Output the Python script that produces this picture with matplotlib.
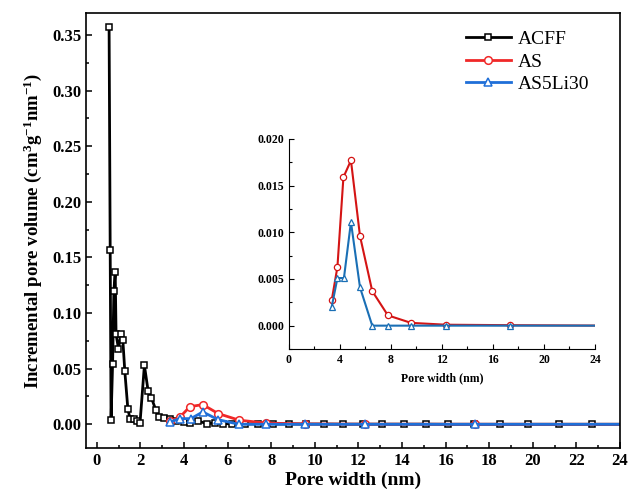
import matplotlib
matplotlib.use("Agg")
import matplotlib.pyplot as plt
from matplotlib.ticker import MultipleLocator

plt.rcParams["font.family"] = ["Liberation Serif", "DejaVu Serif"]
plt.rcParams["mathtext.fontset"] = "custom"
plt.rcParams["mathtext.rm"] = "Liberation Serif:bold"
plt.rcParams["mathtext.bf"] = "Liberation Serif:bold"
plt.rcParams["mathtext.it"] = "Liberation Serif:bold"

# ACFF pore size distribution
acff_x = [0.56, 0.61, 0.65, 0.72, 0.78, 0.84, 0.88, 0.99, 1.10, 1.19, 1.28, 1.42,
          1.52, 1.68, 1.83, 1.98, 2.18, 2.35, 2.50, 2.70, 2.85, 3.08, 3.35, 3.65,
          4.0, 4.27, 4.65, 5.03, 5.4, 5.8, 6.2, 6.8, 7.4, 8.1, 8.8, 9.6, 10.4,
          11.3, 12.2, 13.1, 14.1, 15.1, 16.1, 17.3, 18.5, 19.8, 21.2, 22.7, 24.5]
acff_y = [0.357, 0.157, 0.004, 0.054, 0.120, 0.137, 0.081, 0.068, 0.081, 0.076,
          0.048, 0.014, 0.005, 0.0045, 0.003, 0.0015, 0.053, 0.030, 0.024, 0.013,
          0.0066, 0.0057, 0.0045, 0.003, 0.002, 0.0015, 0.003, 0.0006, 0.0012,
          0.0005, 0.0006, 0.0003, 0.0004, 0.0002, 0.0003, 0.0002, 0.0002, 0.0001,
          0.0001, 0.0001, 0.0001, 0.0001, 0.0, 0.0, 0.0, 0.0, 0.0, 0.0, 0.0]

# AS and AS5Li30
as_x = [3.35, 3.80, 4.27, 4.86, 5.57, 6.53, 7.76, 9.57, 12.3, 17.35, 25.0]
as_y = [0.0027, 0.0063, 0.0159, 0.0177, 0.0096, 0.0037, 0.0011, 0.0003, 0.0001, 0.00005, 0.0]
li_x = [3.35, 3.80, 4.31, 4.86, 5.57, 6.53, 7.76, 9.57, 12.3, 17.35, 25.0]
li_y = [0.0020, 0.0051, 0.0051, 0.0111, 0.0041, 0.0, 0.0, 0.0, 0.0, 0.0, 0.0]

red = "#F02828"
blue = "#1F6FD8"

fig = plt.figure(figsize=(6.3, 4.96), dpi=100)
ax = fig.add_axes([0.1365, 0.0968, 0.8475, 0.877])

ax.plot(acff_x, acff_y, color="black", lw=2, marker="s", ms=5, mfc="white",
        mec="black", mew=1.1, label="ACFF")
ax.plot(as_x, as_y, color=red, lw=2, marker="o", ms=5.5, mfc="white",
        mec=red, mew=1.1, label="AS")
ax.plot(li_x, li_y, color=blue, lw=2, marker="^", ms=5.5, mfc="white",
        mec=blue, mew=1.1, label="AS5Li30")

ax.set_xlim(-0.5, 24)
ax.set_ylim(-0.0213, 0.3698)
ax.xaxis.set_major_locator(MultipleLocator(2))
ax.xaxis.set_minor_locator(MultipleLocator(1))
ax.yaxis.set_major_locator(MultipleLocator(0.05))
ax.yaxis.set_minor_locator(MultipleLocator(0.025))
ax.yaxis.set_major_formatter(plt.FormatStrFormatter("%.2f"))
ax.tick_params(which="both", direction="in", top=False, right=False, width=1.1)
ax.tick_params(which="major", length=4.5, labelsize=12)
ax.tick_params(which="minor", length=2.5)
for lab in ax.get_xticklabels() + ax.get_yticklabels():
    lab.set_fontweight("bold")
for s in ax.spines.values():
    s.set_linewidth(1.2)

ax.set_xlabel("Pore width (nm)", fontsize=14, fontweight="bold", labelpad=2)
ax.set_ylabel(r"Incremental pore volume (cm$^{3}$g$^{-1}$nm$^{-1}$)",
              fontsize=13.5, fontweight="bold", labelpad=6)

ax.legend(loc="upper right", frameon=False, fontsize=14, handlelength=2.3,
          labelspacing=0.25, handletextpad=0.35, bbox_to_anchor=(0.975, 1.0))

# inset
ins = fig.add_axes([0.4587, 0.2964, 0.4857, 0.4234])
ins.plot(as_x, as_y, color="#D41414", lw=1.5, marker="o", ms=4.5, mfc="white",
         mec="#D41414", mew=0.9)
ins.plot(li_x, li_y, color="#1A6FB5", lw=1.5, marker="^", ms=4.5, mfc="white",
         mec="#1A6FB5", mew=0.9)
ins.set_xlim(0, 24)
ins.set_ylim(-0.0025, 0.020)
ins.spines["top"].set_visible(False)
ins.spines["right"].set_visible(False)
ins.xaxis.set_major_locator(MultipleLocator(4))
ins.xaxis.set_minor_locator(MultipleLocator(2))
ins.yaxis.set_major_locator(MultipleLocator(0.005))
ins.yaxis.set_minor_locator(MultipleLocator(0.0025))
ins.yaxis.set_major_formatter(plt.FormatStrFormatter("%.3f"))
ins.tick_params(which="both", direction="in", width=0.8)
ins.tick_params(which="major", length=3.5, labelsize=8.5)
ins.tick_params(which="minor", length=2)
for lab in ins.get_xticklabels() + ins.get_yticklabels():
    lab.set_fontweight("bold")
ins.set_xlabel("Pore width (nm)", fontsize=8.5, fontweight="bold", labelpad=5)

fig.savefig("out.png", dpi=100)
